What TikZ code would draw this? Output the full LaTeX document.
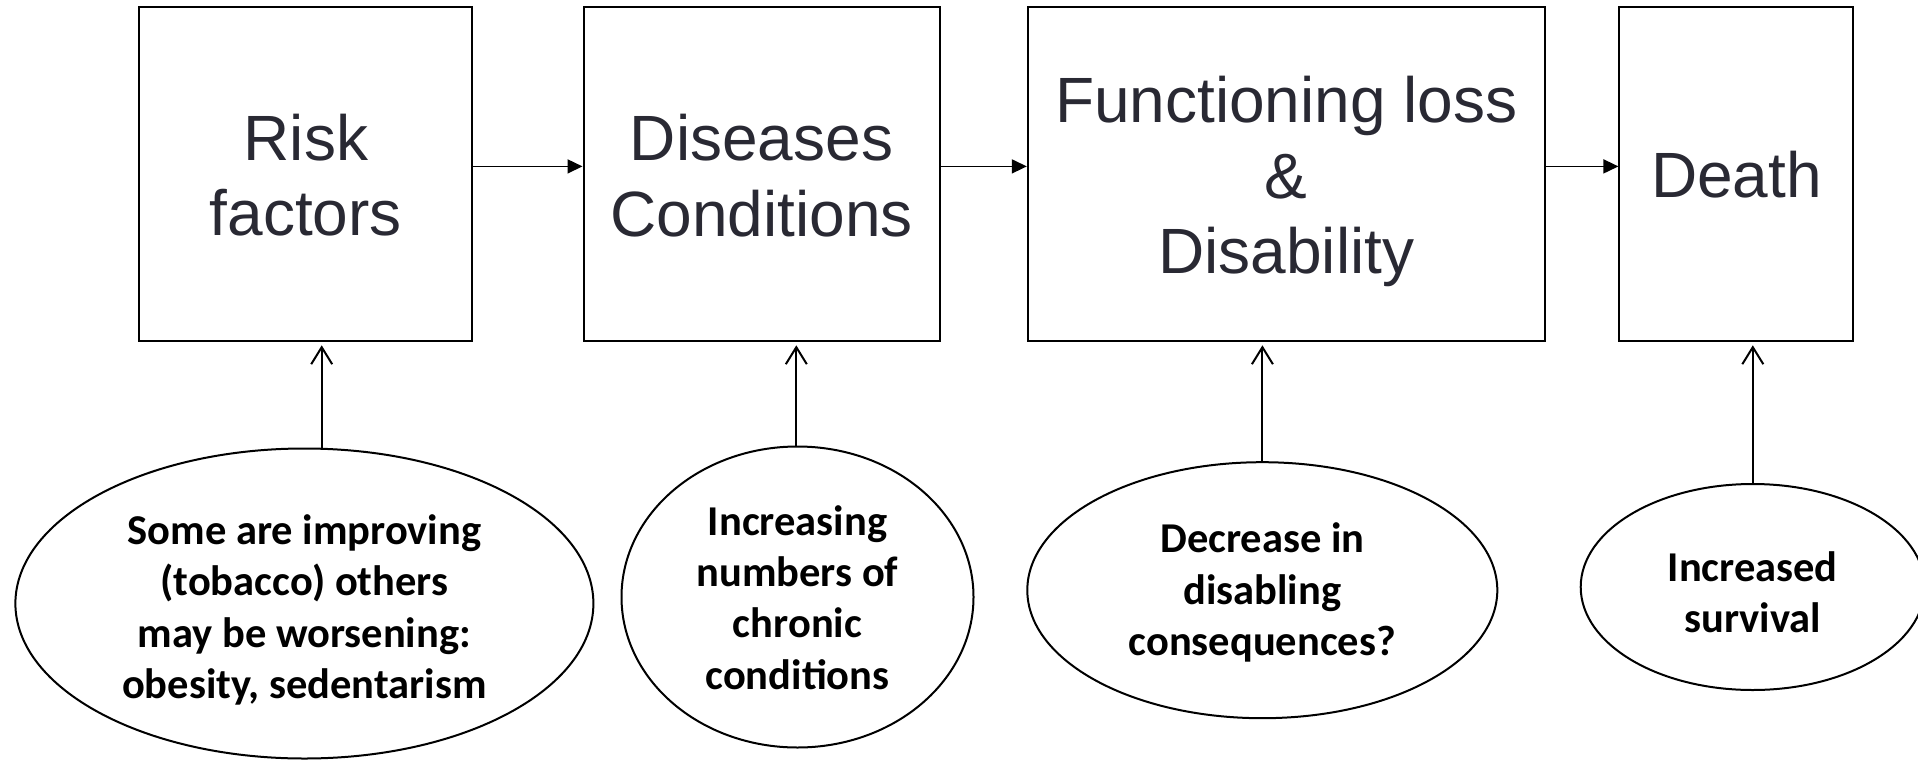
\documentclass[tikz,border=0pt]{standalone}
\usepackage{fontspec}
\setmainfont{Liberation Sans}
\newfontfamily\notefont{Carlito}
\usetikzlibrary{arrows.meta,shapes.geometric}
\definecolor{boxtext}{RGB}{41,41,51}
\begin{document}
\begin{tikzpicture}[x=1pt,y=-1pt,
  stage/.style={draw=black, line width=2pt, rectangle, minimum height=334pt, inner sep=0pt},
  stagetext/.style={align=center, text=boxtext, font=\fontsize{64}{75.5}\selectfont, inner sep=0pt},
  note/.style={draw=black, line width=2pt, ellipse, inner sep=0pt},
  notetext/.style={align=center, text=black,
    font=\notefont\bfseries\fontsize{42.5}{51.3}\selectfont, inner sep=0pt},
  flow/.style={line width=1.6pt, -{Triangle[length=15pt,width=14pt]}},
  push/.style={line width=2pt, -{Straight Barb[length=17pt,width=21pt]}, shorten >=3pt}]
  \clip (0,0) rectangle (1918,760);
  \useasboundingbox (0,0) rectangle (1918,760);

  % stages of the chain
  \node[stage, minimum width=333pt] (b1) at (305.8,174.3) {};
  \node[stage, minimum width=356pt] (b2) at (761.5,174.3) {};
  \node[stage, minimum width=517pt] (b3) at (1286.3,174.3) {};
  \node[stage, minimum width=234pt] (b4) at (1736.4,174.3) {};
  \node[stagetext] (t1) at ([yshift=-1pt]b1.center) {Risk\\factors};
  \node[stagetext] (t2) at ([yshift=-1.5pt]b2.center) {Diseases\\Conditions};
  \node[stagetext] (t3) at ([yshift=-7.5pt]b3.center) {Functioning loss\\\&\\Disability};
  \node[stagetext] (t4) at (b4.center) {Death};

  % trends acting on each stage
  \node[note, minimum width=578pt, minimum height=310pt] (e1) at (304.4,603.5) {};
  \node[note, minimum width=352pt, minimum height=301pt] (e2) at (797.5,597) {};
  \node[note, minimum width=470pt, minimum height=256pt] (e3) at (1262.3,590.2) {};
  \node[note, minimum width=344pt, minimum height=206pt] (e4) at (1752.7,587) {};
  \node[notetext] (n1) at ([yshift=-6.5pt]e1.center)
    {Some are improving\\(tobacco) others\\may be worsening:\\obesity, sedentarism};
  \node[notetext] (n2) at ([yshift=-0.5pt]e2.center)
    {Increasing\\numbers of\\chronic\\conditions};
  \node[notetext] (n3) at ([yshift=-2.5pt]e3.center)
    {Decrease in\\disabling\\consequences?};
  \node[notetext] (n4) at ([yshift=-5pt]e4.center)
    {Increased\\survival};

  % horizontal flow between stages
  \coordinate (hy) at (0,166.4);
  \draw[flow] (b1.east |- hy) -- (b2.west |- hy);
  \draw[flow] (b2.east |- hy) -- (b3.west |- hy);
  \draw[flow] (b3.east |- hy) -- (b4.west |- hy);

  % upward influences
  \coordinate (x1) at (321.7,0);
  \coordinate (x2) at (796.3,0);
  \coordinate (x3) at (1262.4,0);
  \coordinate (x4) at (1752.8,0);
  \draw[push] (e1.north -| x1) -- (b1.south -| x1);
  \draw[push] (e2.north -| x2) -- (b2.south -| x2);
  \draw[push] (e3.north -| x3) -- (b3.south -| x3);
  \draw[push] (e4.north -| x4) -- (b4.south -| x4);
\end{tikzpicture}
\end{document}
